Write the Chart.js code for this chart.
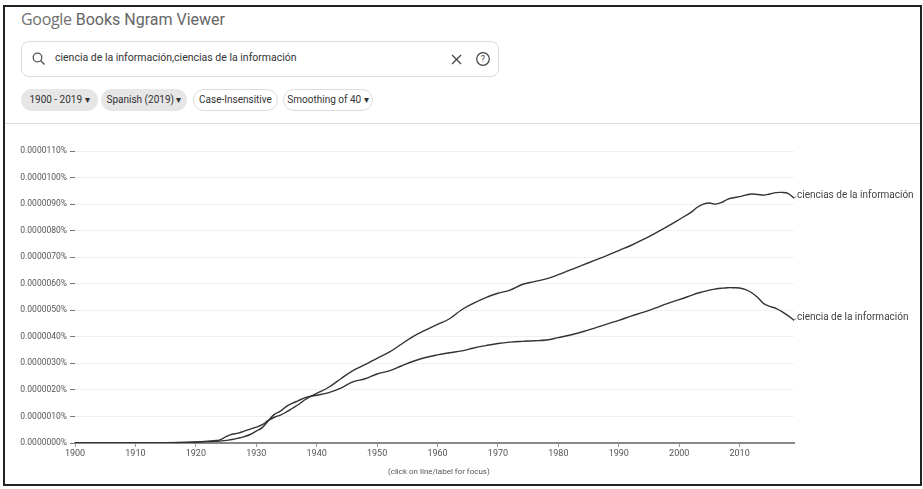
<!DOCTYPE html>
<html>
<head>
<meta charset="utf-8">
<script src="https://cdn.jsdelivr.net/npm/chart.js@4.4.1/dist/chart.umd.min.js"></script>
<style>
  html, body { margin: 0; padding: 0; background: #fff; }
  body { width: 923px; height: 489px; position: relative; overflow: hidden; font-family: Roboto, "Noto Sans", sans-serif; color: #444; }
  .frame { position: absolute; left: 3px; top: 5px; width: 915px; height: 477px; border: 2px solid #222; }
  .title { position: absolute; left: 21px; top: 8px; font-size: 16px; color: #666; }
  .title .g { font-family: "Open Sans", Roboto, sans-serif; font-weight: 500; color: #707070; letter-spacing: -0.3px; }
  .search { position: absolute; left: 21px; top: 41px; width: 476px; height: 34px; border: 1px solid #ddd; border-radius: 8px; }
  .search .q { position: absolute; left: 33px; top: 9px; font-size: 10.5px; color: #333; }
  .search svg { position: absolute; }
  .chip { position: absolute; top: 89px; height: 22px; border-radius: 12px; font-size: 10px; line-height: 22px; color: #333; box-sizing: border-box; text-align: center; }
  .chip.fill { background: #e6e6e6; }
  .chip.line { border: 1px solid #ddd; line-height: 20px; }
  .sep { position: absolute; left: 5px; top: 123px; width: 915px; height: 1px; background: #ddd; }
  #wrap { position: absolute; left: 4px; top: 126px; width: 914px; height: 355px; }
  .note { position: absolute; left: 388px; top: 467px; font-size: 8px; color: #555; }
</style>
</head>
<body>
<div class="frame"></div>
<div class="title"><span class="g">Google</span> Books Ngram Viewer</div>
<div class="search">
  <svg style="left:10px;top:10px" width="14" height="14" viewBox="0 0 14 14"><circle cx="5.5" cy="5.5" r="4.3" fill="none" stroke="#555" stroke-width="1.3"/><line x1="8.7" y1="8.7" x2="12.5" y2="12.5" stroke="#555" stroke-width="1.4"/></svg>
  <div class="q">ciencia de la información,ciencias de la información</div>
  <svg style="left:429px;top:12px" width="11" height="11" viewBox="0 0 11 11"><line x1="1" y1="1" x2="10" y2="10" stroke="#444" stroke-width="1.3"/><line x1="10" y1="1" x2="1" y2="10" stroke="#444" stroke-width="1.3"/></svg>
  <svg style="left:453px;top:9px" width="16" height="16" viewBox="0 0 16 16"><circle cx="8" cy="8" r="6.3" fill="none" stroke="#444" stroke-width="1.2"/><text x="8" y="11.3" font-size="9" text-anchor="middle" fill="#444" font-family="Roboto">?</text></svg>
</div>
<div class="chip fill" style="left:21px;width:77px">1900 - 2019 &#9662;</div>
<div class="chip fill" style="left:101px;width:86px">Spanish (2019) &#9662;</div>
<div class="chip line" style="left:193px;width:85px">Case-Insensitive</div>
<div class="chip line" style="left:283px;width:90px">Smoothing of 40 &#9662;</div>
<div class="sep"></div>
<div id="wrap"><canvas id="ngram"></canvas></div>
<div class="note">(click on line/label for focus)</div>
<script>
// values in units of 0.000001 %
const years = [1900, 1905, 1910, 1915, 1918, 1920, 1922, 1923, 1924, 1925, 1926, 1927, 1928, 1929,
  1930, 1931, 1932, 1933, 1934, 1935, 1936, 1937, 1938, 1939, 1940, 1942, 1944, 1946, 1948,
  1950, 1952, 1954, 1956, 1958, 1960, 1962, 1964, 1966, 1968, 1970, 1972, 1974, 1976, 1978,
  1980, 1982, 1984, 1986, 1988, 1990, 1992, 1994, 1996, 1998, 2000, 2002, 2003, 2004, 2005,
  2006, 2007, 2008, 2009, 2010, 2011, 2012, 2013, 2014, 2015, 2016, 2017, 2018, 2019];

const cienciasInfo = [0.01, 0.01, 0.01, 0.01, 0.02, 0.04, 0.07, 0.09, 0.12, 0.24, 0.33, 0.37, 0.45, 0.52,
  0.60, 0.69, 0.85, 0.97, 1.05, 1.17, 1.31, 1.45, 1.62, 1.76, 1.87, 2.10, 2.42, 2.73, 2.95,
  3.19, 3.42, 3.72, 4.02, 4.25, 4.47, 4.68, 5.02, 5.27, 5.48, 5.64, 5.76, 5.97, 6.08, 6.18,
  6.34, 6.52, 6.70, 6.88, 7.06, 7.25, 7.44, 7.66, 7.90, 8.15, 8.42, 8.70, 8.88, 9.00, 9.04,
  9.00, 9.06, 9.18, 9.24, 9.28, 9.34, 9.38, 9.36, 9.34, 9.38, 9.43, 9.44, 9.40, 9.22];

const cienciaInfo = [0.01, 0.01, 0.01, 0.01, 0.02, 0.03, 0.05, 0.06, 0.07, 0.10, 0.13, 0.18, 0.24, 0.32,
  0.45, 0.58, 0.84, 1.08, 1.20, 1.38, 1.50, 1.60, 1.70, 1.76, 1.80, 1.90, 2.07, 2.30, 2.42,
  2.60, 2.72, 2.90, 3.08, 3.22, 3.32, 3.40, 3.47, 3.58, 3.67, 3.75, 3.80, 3.83, 3.85, 3.88,
  3.97, 4.07, 4.19, 4.33, 4.48, 4.62, 4.78, 4.92, 5.08, 5.25, 5.40, 5.56, 5.64, 5.70, 5.76,
  5.80, 5.83, 5.85, 5.85, 5.84, 5.78, 5.66, 5.48, 5.25, 5.15, 5.07, 4.95, 4.80, 4.62];

const seriesNames = ['ciencia de la información', 'ciencias de la información'];
const yTicks = [0, 1, 2, 3, 4, 5, 6, 7, 8, 9, 10, 11];
const xTicks = [1900, 1910, 1920, 1930, 1940, 1950, 1960, 1970, 1980, 1990, 2000, 2010];

function toPoints(vals) {
  return years.map((y, i) => ({ x: y, y: vals[i] }));
}

// names drawn at the end of each line
const endLabels = {
  id: 'endLabels',
  afterDatasetsDraw(chart) {
    const ctx = chart.ctx;
    ctx.save();
    ctx.font = '10px Roboto';
    ctx.fillStyle = '#444';
    ctx.textBaseline = 'middle';
    chart.data.datasets.forEach((ds, i) => {
      const pts = chart.getDatasetMeta(i).data;
      const last = pts[pts.length - 1];
      ctx.strokeStyle = '#555';
      ctx.lineWidth = 1;
      ctx.beginPath();
      ctx.moveTo(last.x, last.y);
      ctx.lineTo(last.x + 2, last.y - 2);
      ctx.stroke();
      ctx.fillText(ds.label, last.x + 3, last.y - 3);
    });
    ctx.restore();
  }
};

const ctx = document.getElementById('ngram').getContext('2d');
new Chart(ctx, {
  type: 'line',
  data: {
    datasets: [
      { label: seriesNames[0], data: toPoints(cienciaInfo), borderColor: '#333', borderWidth: 1.4, pointRadius: 0, tension: 0.4, fill: false },
      { label: seriesNames[1], data: toPoints(cienciasInfo), borderColor: '#333', borderWidth: 1.4, pointRadius: 0, tension: 0.4, fill: false }
    ]
  },
  options: {
    responsive: true,
    maintainAspectRatio: false,
    animation: false,
    layout: { padding: { left: 0, top: 25, right: 124, bottom: 18 } },
    plugins: { legend: { display: false }, tooltip: { enabled: false } },
    scales: {
      x: {
        type: 'linear',
        min: 1900,
        max: 2019,
        afterFit(scale) { scale.height = 20; },
        afterBuildTicks(scale) { scale.ticks = xTicks.map(v => ({ value: v })); },
        grid: { drawOnChartArea: false, tickLength: 4, tickColor: '#999' },
        border: { color: '#888', width: 2 },
        ticks: { font: { family: 'Roboto', size: 9 }, color: '#555', padding: 1, maxRotation: 0, callback: v => String(v) }
      },
      y: {
        min: 0,
        max: 11,
        afterFit(scale) { scale.width = 71; },
        afterBuildTicks(scale) { scale.ticks = yTicks.map(v => ({ value: v })); },
        grid: { color: '#f0f0f0', tickLength: 5, tickColor: '#777', lineWidth: 1 },
        border: { display: false },
        ticks: { font: { family: 'Roboto', size: 8.5 }, color: '#555', padding: 3, callback: v => (v / 1e6).toFixed(7) + '%' }
      }
    }
  },
  plugins: [endLabels]
});
</script>
</body>
</html>
